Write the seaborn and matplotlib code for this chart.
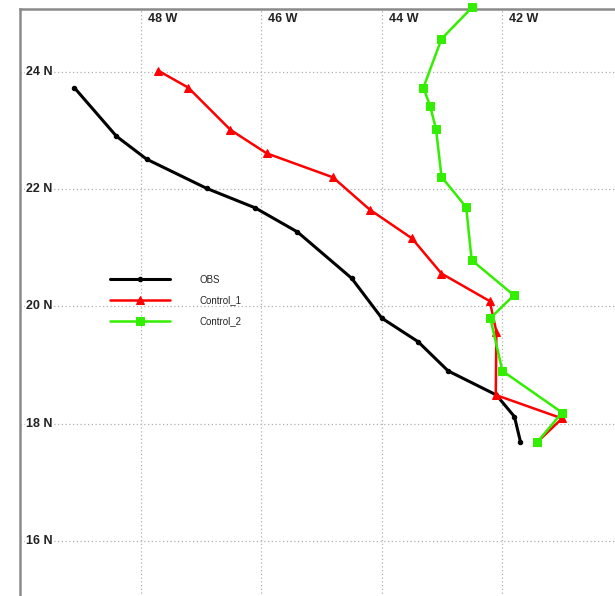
import matplotlib
matplotlib.use('Agg')

import matplotlib.pyplot as plt
import seaborn as sns
import pandas as pd

sns.set_style("white")
plt.rcParams['font.family'] = ['Liberation Sans', 'DejaVu Sans']

# track positions (lon in degrees east, lat in degrees north)
obs_lon = [-49.1, -48.4, -47.9, -46.9, -46.1, -45.4, -44.5, -44.0, -43.4, -42.9, -42.1, -41.8, -41.7]
obs_lat = [23.73, 22.90, 22.51, 22.01, 21.68, 21.27, 20.48, 19.80, 19.40, 18.90, 18.49, 18.12, 17.69]

ctl1_lon = [-47.71, -47.21, -46.51, -45.91, -44.81, -44.20, -43.50, -43.01, -42.21, -42.10, -42.11, -41.01, -41.42]
ctl1_lat = [24.02, 23.73, 23.01, 22.61, 22.20, 21.65, 21.16, 20.56, 20.09, 19.57, 18.49, 18.09, 17.69]

ctl2_lon = [-42.50, -43.01, -43.31, -43.20, -43.10, -43.01, -42.60, -42.51, -41.81, -42.20, -42.00, -41.01, -41.42]
ctl2_lat = [25.10, 24.56, 23.73, 23.42, 23.02, 22.21, 21.69, 20.79, 20.19, 19.80, 18.90, 18.19, 17.69]

lon_ticks = [-48, -46, -44, -42]
lat_ticks = [16, 18, 20, 22, 24]

tracks = [
    ("OBS", obs_lon, obs_lat, "black", "o", 3.2, 2.2),
    ("Control_1", ctl1_lon, ctl1_lat, "#ff0000", "^", 6, 1.8),
    ("Control_2", ctl2_lon, ctl2_lat, "#33ee00", "s", 5.5, 1.8),
]

fig = plt.figure(figsize=(6.15, 5.96), dpi=100)
ax = fig.add_axes([20 / 615, -3.7 / 596, 603 / 615, 590.7 / 596])

for name, lon, lat, color, marker, ms, lw in tracks:
    df = pd.DataFrame({"lon": lon, "lat": lat})
    sns.lineplot(data=df, x="lon", y="lat", sort=False, estimator=None, ax=ax,
                 color=color, marker=marker, markersize=ms, linewidth=lw,
                 markeredgecolor=color, label=name, clip_on=False, zorder=3)

ax.set_xlim(-50, -40)
ax.set_ylim(15, 25.07)
ax.set_xticks(lon_ticks)
ax.set_yticks(lat_ticks)
ax.set_xticklabels([])
ax.set_yticklabels([])
ax.tick_params(length=0)
ax.set_xlabel("")
ax.set_ylabel("")
ax.grid(True, color="#b0b0b0", linestyle=(0, (1, 2)), linewidth=0.9)

# labels drawn inside the frame, like the original map
for lon in lon_ticks:
    ax.annotate(f"{abs(lon)} W", xy=(lon, 1), xycoords=("data", "axes fraction"),
                xytext=(5, -3), textcoords="offset points", ha="left", va="top",
                fontsize=9, fontweight="bold", color="#222222")
for lat in lat_ticks:
    ax.annotate(f"{lat} N", xy=(0, lat), xycoords=("axes fraction", "data"),
                xytext=(4, 0), textcoords="offset points", ha="left", va="center",
                fontsize=9, fontweight="bold", color="#222222",
                bbox=dict(facecolor="white", edgecolor="none", pad=0.5))

for side in ["top", "left"]:
    ax.spines[side].set_color("#8a8a8a")
    ax.spines[side].set_linewidth(1.8)
for side in ["right", "bottom"]:
    ax.spines[side].set_visible(False)

ax.legend(loc="upper left", bbox_to_anchor=(0.135, 0.565), frameon=False,
          fontsize=7, handlelength=6.2, handletextpad=3.0, labelspacing=1.1)

fig.savefig("out.png", dpi=100)
